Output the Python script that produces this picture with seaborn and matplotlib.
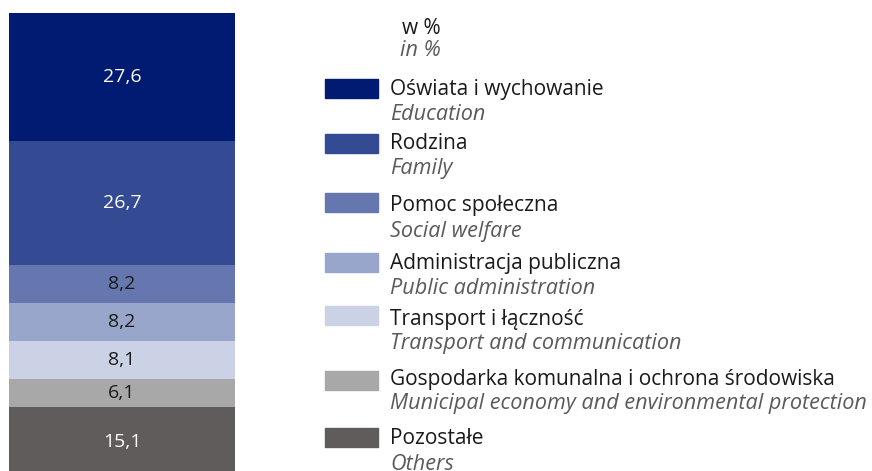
import matplotlib
matplotlib.use("Agg")
import matplotlib.pyplot as plt
import seaborn as sns
import numpy as np
from matplotlib.patches import Rectangle

sns.set_theme(style="white")
plt.rcParams['font.family'] = ['Open Sans', 'DejaVu Sans']

# ---- data ----
categories_pl = ["Oświata i wychowanie", "Rodzina", "Pomoc społeczna",
                 "Administracja publiczna", "Transport i łączność",
                 "Gospodarka komunalna i ochrona środowiska", "Pozostałe"]
categories_en = ["Education", "Family", "Social welfare", "Public administration",
                 "Transport and communication",
                 "Municipal economy and environmental protection", "Others"]
values = [27.6, 26.7, 8.2, 8.2, 8.1, 6.1, 15.1]
value_labels = ["27,6", "26,7", "8,2", "8,2", "8,1", "6,1", "15,1"]
unit_pl = "w %"
unit_en = "in %"

colors = ["#001b71", "#344a92", "#6577ae", "#98a6cb", "#ccd2e6", "#a8a8a8", "#605c5b"]
label_colors = ["white", "white", "#1a1a1a", "#1a1a1a", "#1a1a1a", "#1a1a1a", "white"]

W, H = 872, 471
fig = plt.figure(figsize=(W / 100, H / 100), dpi=100)

# bar axes
ax = fig.add_axes([9 / W, 0, 226 / W, 1])
px_per_unit = 4.64
top_px = 13
ymin = -top_px / px_per_unit
ymax = (H - top_px) / px_per_unit

bottoms = np.concatenate([[0], np.cumsum(values)[:-1]])
for v, b, c in zip(values, bottoms, colors):
    sns.barplot(x=["all"], y=[v], bottom=b, color=c, width=1, saturation=1,
                linewidth=0, ax=ax)
ax.set_xlim(-0.5, 0.5)
ax.set_ylim(ymax, ymin)
ax.axis("off")

for v, b, lab, lc in zip(values, bottoms, value_labels, label_colors):
    ax.text(0, b + v / 2, lab, ha="center", va="center", color=lc, fontsize=14)

# legend
def fy(py):
    return 1 - py / H

def fx(px):
    return px / W

PL_SIZE = 15
EN_SIZE = 15.6
fig.text(fx(402), fy(28), unit_pl, ha="left", va="center", fontsize=PL_SIZE, color="#1a1a1a")
fig.text(fx(400), fy(51), unit_en, ha="left", va="center", fontsize=EN_SIZE, color="#5a5a5a",
         style="italic")

patch_centers = [88.5, 143.5, 202.5, 262.5, 315, 380, 437]
text_centers = [89, 144, 206, 264, 319, 379, 439]
for pc, tc, pl, en, c in zip(patch_centers, text_centers, categories_pl, categories_en, colors):
    fig.patches.append(Rectangle((fx(325), fy(pc + 9.5)), 53 / W, 19 / H, color=c,
                                 transform=fig.transFigure, figure=fig))
    fig.text(fx(390), fy(tc), pl, ha="left", va="center", fontsize=PL_SIZE, color="#1a1a1a")
    fig.text(fx(390), fy(tc + 25), en, ha="left", va="center", fontsize=EN_SIZE,
             color="#5a5a5a", style="italic")

fig.savefig("out.png", dpi=100)
